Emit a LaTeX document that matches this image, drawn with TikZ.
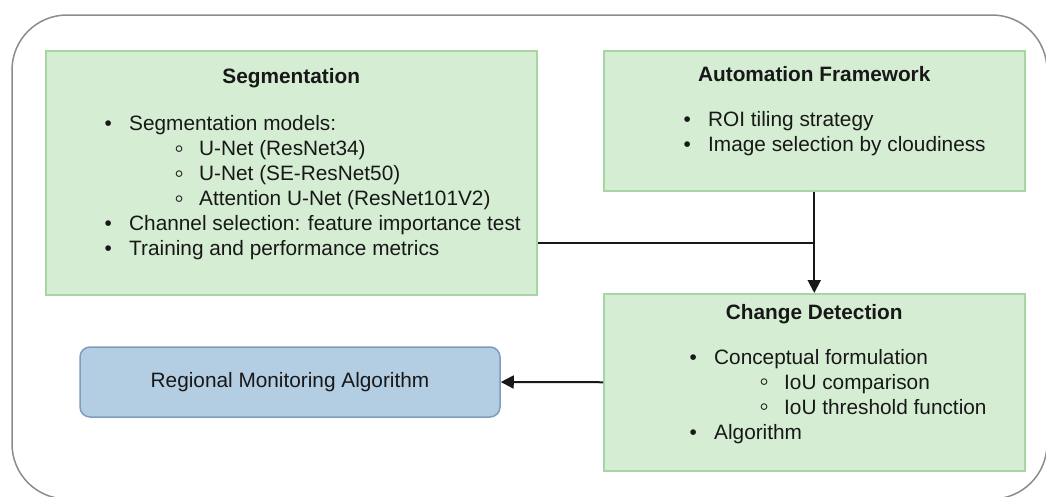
\documentclass[tikz,border=0pt]{standalone}
\usepackage{fontspec}
\setmainfont{Liberation Sans}
\usepackage{tikz}
\usetikzlibrary{arrows.meta}
\usetikzlibrary{shapes,positioning,calc}
\definecolor{boxgreen}{HTML}{D5EDD3}
\definecolor{boxgreenline}{HTML}{A8D5A4}
\definecolor{boxblue}{HTML}{B3CDE3}
\definecolor{boxblueline}{HTML}{7F9CBE}
\definecolor{frameline}{HTML}{8C8C8C}
\definecolor{txt}{HTML}{181818}
\tikzstyle{greenbox} = [rectangle, anchor=north west, inner sep=0pt, fill=boxgreen, draw=boxgreenline, line width=1.5pt]
\tikzstyle{bluebox} = [rectangle, rounded corners=10pt, inner sep=0pt, fill=boxblue, draw=boxblueline, line width=1.5pt, text=txt, font=\fontsize{20.8}{25}\selectfont]
\tikzstyle{title} = [inner sep=0pt, anchor=base, text=txt, font=\fontsize{20.8}{25}\selectfont\bfseries]
\tikzstyle{list} = [inner sep=0pt, anchor=north west, align=left, text=txt, font=\fontsize{20.8}{25}\selectfont]
\tikzstyle{link} = [draw=txt, line width=2pt]
\tikzstyle{tip} = [-{Triangle[length=13pt,width=13pt]}]
\newcommand{\bul}[1]{\makebox[20pt][c]{\textbullet}\makebox[11pt]{}#1}
\newcommand{\subbul}[1]{\makebox[71pt]{}\makebox[20pt][c]{\raisebox{-1.5pt}{\fontsize{27}{27}\selectfont ◦}}\makebox[10pt]{}#1}

\begin{document}
\begin{tikzpicture}[x=1pt, y=-1pt]
				\useasboundingbox (0,0) rectangle (1046,496);
				\draw[frameline, line width=1.5pt, rounded corners=55pt] (12,15) rectangle (1047,499);
				
				% boxes
				\node[greenbox, minimum width=491pt, minimum height=244pt] (seg) at (45,50) {};
				\node[greenbox, minimum width=421pt, minimum height=140pt] (auto) at (603,50) {};
				\node[greenbox, minimum width=421pt, minimum height=177pt] (cd) at (603,293) {};
				\node[bluebox, minimum width=420pt, minimum height=70pt] (rma) at (290,382) {Regional Monitoring Algorithm};
				
				\node[title] (segtitle) at (seg.north |- 0,83) {Segmentation};
				\node[list] (seglist) at (98,115.3) {
					\bul{Segmentation models:}\\
					\subbul{U-Net (ResNet34)}\\
					\subbul{U-Net (SE-ResNet50)}\\
					\subbul{Attention U-Net (ResNet101V2)}\\
					\bul{Channel selection: feature importance test}\\
					\bul{Training and performance metrics}};
				
				\node[title] (autotitle) at (auto.north |- 0,81) {Automation Framework};
				\node[list] (autolist) at (677,111) {
					\bul{ROI tiling strategy}\\
					\bul{Image selection by cloudiness}};
				
				\node[title] (cdtitle) at (cd.north |- 0,319) {Change Detection};
				\node[list] (cdlist) at (683,349) {
					\bul{Conceptual formulation}\\
					\subbul{IoU comparison}\\
					\subbul{IoU threshold function}\\
					\bul{Algorithm}};
				
				% connectors
				\coordinate (join) at (auto.south |- 0,243);
				\draw[link] (seg.east |- join) -- (join);
				\draw[link, tip] (auto.south) -- (cd.north);
				\draw[link, tip] (cd.west) -- (rma.east);
			\end{tikzpicture}
\end{document}
